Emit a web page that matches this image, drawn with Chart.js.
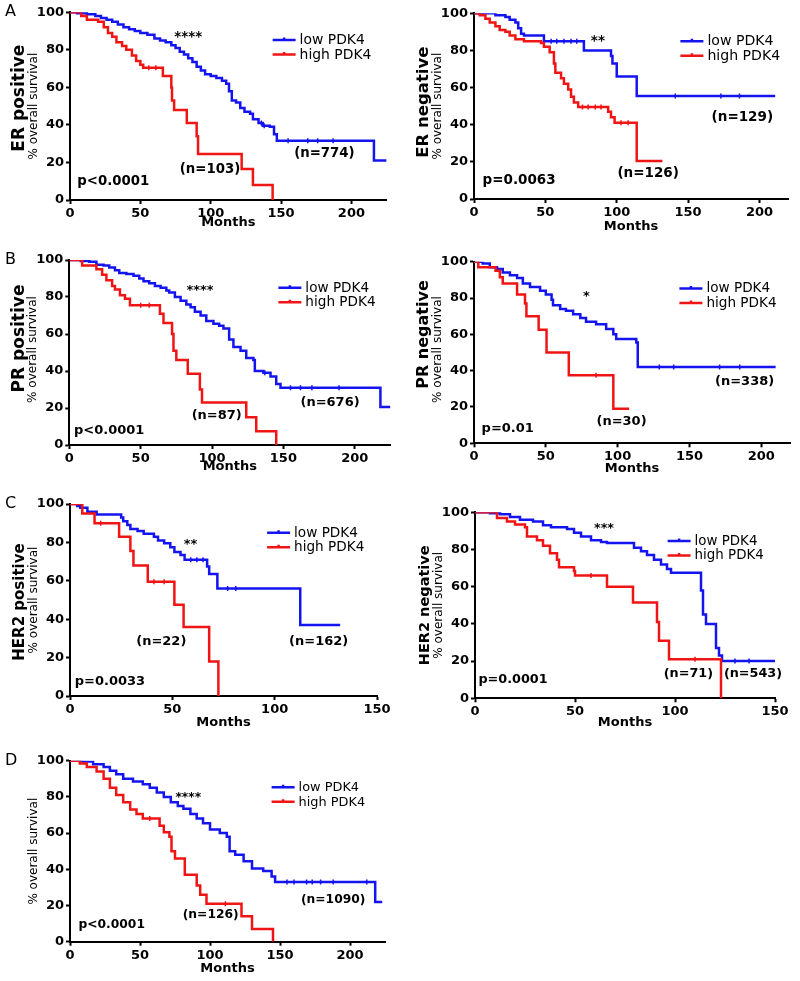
<!DOCTYPE html>
<html>
<head>
<meta charset="utf-8">
<script src="https://cdn.jsdelivr.net/npm/chart.js@4.4.1/dist/chart.umd.min.js"></script>
<style>
  html, body { margin: 0; padding: 0; background: #fff; }
  #fig { position: relative; width: 800px; height: 981px; overflow: hidden; }
  #fig canvas { position: absolute; }
</style>
</head>
<body>
<div id="fig"></div>
<script>
/* ---------- tick labels ---------- */
const yTicks = [0, 20, 40, 60, 80, 100];
const xTicksLong = [0, 50, 100, 150, 200];
const xTicksShort = [0, 50, 100, 150];
const seriesNames = ["low PDK4", "high PDK4"];

/* ---------- survival curves: [months, % surviving] after each step ---------- */
// A - ER positive
const erPosLow = [[0,100],[5,99.5],[12,99],[18,98],[22,97],[26,96],[30,95],[34,93.5],[38,92],[42,91],[46,90],[50,89],[55,88],[60,86],[64,85],[68,84],[72,82.5],[75,81],[78,79],[81,77.5],[84,75.5],[87,73.5],[90,71],[93,69],[96,67],[100,66],[104,65],[108,63.5],[111,62],[113,58],[115,53],[118,52],[121,49],[124,47],[128,46],[130,43],[134,41],[137,39.5],[142,39],[145,35],[147,31.5],[216,21],[225,21]];
const erPosHigh = [[0,100],[8,98],[12,96],[20,95],[24,92],[27,89],[30,87],[33,84],[37,82],[40,80],[44,77],[47,74],[50,72],[52,70.5],[66,66],[72,60],[72.5,53],[74,48],[83,41],[90,34],[91,24.5],[122,16.5],[130,8],[144,0]];
// A - ER negative
const erNegLow = [[0,100],[15,99],[22,98],[25,96.5],[29,95],[31,92],[33,89],[35,88],[49,85],[77,80],[96,77],[97,73],[100,66],[114,55.5],[211,55.5]];
const erNegHigh = [[0,100],[4,99],[8,97],[11,95],[15,93],[18,91],[22,90],[25,88],[29,86],[35,85],[47,84],[49,82],[53,79],[56,73],[57,68],[61,65],[63,62],[66,59],[68,55],[70,52],[73,49.5],[94,47],[96,44],[98.5,41],[114,20.5],[132,20.5]];
// B - PR positive
const prPosLow = [[0,100],[8,99.5],[14,99],[19,97.5],[24,97],[28,96],[32,94.5],[35,93],[40,92.5],[45,91.5],[49,90],[52,88.5],[56,87.5],[60,86],[64,85],[68,83.5],[70,82.5],[74,80],[78,78],[82,76],[85,74.5],[88,72],[92,70],[96,67],[101,65.5],[105,64.5],[108,63],[112,57],[115,53],[120,51],[124,47],[129,46],[130,40],[136,39],[141,37],[145,33],[148,31],[218,20.5],[225,20.5]];
const prPosHigh = [[0,100],[9,97],[19,95],[23,92],[26,89],[30,86],[32,84],[35.5,81],[39,79],[42.5,75.5],[63.5,71],[66,66],[72,60],[73,51],[75,46],[83,38.5],[91.5,30],[93,23],[124,15],[131,7.5],[145,0]];
// B - PR negative
const prNegLow = [[0,100],[6,99],[11,97],[16,96],[20,94],[25,92.5],[30,91],[34,88],[39,86],[46,84],[50,82],[54,79],[55,76],[60,74],[64,73],[69,71],[74,69],[78,67],[85,65.5],[92,63],[97,60],[99,57.5],[113,55.5],[114,42],[210,42]];
const prNegHigh = [[0,100],[3,97],[15,95],[18,91.5],[20,88],[30,82],[35.5,77],[36.5,70],[45,62.5],[50.5,50],[66,37.5],[97,19],[108,19]];
// C - HER2 positive
const her2PosLow = [[0,100],[3.5,99],[5,98],[8.5,96],[13,94.5],[25,93],[26,91],[28,89],[29.5,87],[33,86],[36,84.5],[41,83],[43,81],[46,79.5],[49,77.5],[51,75],[54,73.5],[56,71],[67,67.5],[68,63.5],[72,56],[112.5,37],[132,37]];
const her2PosHigh = [[0,100],[6,95],[12,90],[24,83],[29.5,75.5],[31,68],[38,59.5],[51,47.5],[55.5,36],[68,18],[72.5,0]];
// C - HER2 negative
const her2NegLow = [[0,100],[7.5,99.5],[12.5,99],[17.5,97.5],[22.5,96],[29,95],[34,93],[38,92],[46,91],[49.5,89],[53,87],[58,85],[63,84],[66,83.5],[79.5,81],[83,79],[86,77],[89.5,74.5],[93,72],[96,69.5],[98,67.5],[113,58],[114,45],[115.5,40],[120.5,27],[122,23],[123.5,20],[150,20]];
const her2NegHigh = [[0,100],[11,97],[16,95],[20,93.5],[25,92],[26,87],[31,85],[34,82],[37.5,78],[41,74.5],[42,70.5],[49.5,68.5],[50,66],[66,60],[79,51.5],[91,41],[92,31],[97,21],[123,0]];
// D - all patients
const allLow = [[0,100],[9.5,99.5],[16.5,98],[24,96.5],[28.5,94.5],[33,92.5],[38,90],[45,88.5],[52,87],[57,85],[62,82.5],[67,80],[72,77],[77,75],[81,73.5],[86,70.5],[90.5,68],[95,65.5],[100,62],[107,60],[112,58],[114,50],[118,48],[124,44.5],[130,40.5],[138,39],[144,36],[146.5,33],[218,22],[223,22]];
const allHigh = [[0,100],[7,98.5],[12,96.5],[19,94],[24,90],[28.5,85],[33,81],[38,77],[43,73],[47.5,70.5],[52,68],[64,64],[67,60.5],[71,58],[72.5,50],[75,46],[82,37],[90.5,31],[93,26],[97.5,21],[122.5,14],[130,7],[145,0]];

/* ---------- censored times (months) ---------- */
const erPosLowCens = [136, 138, 155, 169, 176, 187];
const erPosHighCens = [56, 61];
const erNegLowCens = [54, 58, 63, 68, 72, 141, 173, 186];
const erNegHighCens = [76, 80, 85, 89, 103, 108];
const prPosLowCens = [137, 155, 162, 170, 189];
const prPosHighCens = [50, 56];
const prNegLowCens = [129, 139, 171, 185];
const prNegHighCens = [85];
const her2PosLowCens = [59, 62, 65, 77, 81];
const her2PosHighCens = [15, 41, 46];
const her2NegLowCens = [130, 137];
const her2NegHighCens = [58, 110];
const allLowCens = [155, 160, 169, 173, 179, 188, 212];
const allHighCens = [57, 111];

const BLUE = "#1414f0";
const RED = "#f01414";
const FONT = "DejaVu Sans";

/* ---------- panels (layout in page pixels) ---------- */
const panels = [
  { box: [0, 0, 400, 240], area: [70, 386.6, 12.3, 200], xMax: 225, xTicks: xTicksLong, monthsOff: 22.7,
    letter: "A", group: "ER positive", groupSize: 17, groupDy: -8, subDy: 0, fs: 13.3,
    low: erPosLow, high: erPosHigh, lowCens: erPosLowCens, highCens: erPosHighCens,
    stars: ["****", 84, 86.7], nLow: ["(n=774)", 180.8, 24.5],
    nHigh: ["(n=103)", 99.5, 16.3], pval: ["p<0.0001", 5.2, 9.8], legend: [144, 85.3] },
  { box: [400, 0, 400, 240], area: [474, 788, 13.3, 199], xMax: 220, xTicks: xTicksLong, monthsOff: 27.7,
    letter: "", group: "ER negative", groupSize: 16.5, groupDy: -4, subDy: 0, fs: 13.5,
    low: erNegLow, high: erNegHigh, lowCens: erNegLowCens, highCens: erNegHighCens,
    stars: ["**", 86.8, 84.7], nLow: ["(n=129)", 188, 44],
    nHigh: ["(n=126)", 122, 13.5], pval: ["p=0.0063", 6, 10.2], legend: [144.6, 85] },
  { box: [0, 240, 400, 240], area: [69.3, 390.4, 260, 445], xMax: 225, xTicks: xTicksLong, monthsOff: 21.7,
    letter: "B", group: "PR positive", groupSize: 17, groupDy: -14, subDy: -3, fs: 13,
    low: prPosLow, high: prPosHigh, lowCens: prPosLowCens, highCens: prPosHighCens,
    stars: ["****", 91.6, 83.4], nLow: ["(n=676)", 182.7, 22.9],
    nHigh: ["(n=87)", 103.3, 15.9], pval: ["p<0.0001", 3.3, 7.7], legend: [146.5, 85] },
  { box: [400, 240, 400, 240], area: [474, 790, 261.7, 443.3], xMax: 220, xTicks: xTicksLong, monthsOff: 25,
    letter: "", group: "PR negative", groupSize: 16, groupDy: -18, subDy: -3, fs: 13,
    low: prNegLow, high: prNegHigh, lowCens: prNegLowCens, highCens: prNegHighCens,
    stars: ["*", 78.3, 80.7], nLow: ["(n=338)", 188.4, 34],
    nHigh: ["(n=30)", 102.7, 12], pval: ["p=0.01", 5.3, 8.3], legend: [143, 85.3] },
  { box: [0, 480, 400, 255], area: [70, 377, 504, 696], xMax: 150, xTicks: xTicksShort, monthsOff: 26.7,
    letter: "C", group: "HER2 positive", groupSize: 15, groupDy: 2, subDy: 0, fs: 13,
    low: her2PosLow, high: her2PosHigh, lowCens: her2PosLowCens, highCens: her2PosHighCens,
    stars: ["**", 58.9, 79], nLow: ["(n=162)", 121.5, 28.3],
    nHigh: ["(n=22)", 44.6, 28.3], pval: ["p=0.0033", 2.3, 7.5], legend: [96.3, 85] },
  { box: [400, 480, 400, 255], area: [475, 775, 512.3, 698.3], xMax: 150, xTicks: xTicksShort, monthsOff: 24.7,
    letter: "", group: "HER2 negative", groupSize: 14.5, groupDy: 0, subDy: 0, fs: 12.8,
    low: her2NegLow, high: her2NegHigh, lowCens: her2NegLowCens, highCens: her2NegHighCens,
    stars: ["***", 64.5, 91.4], nLow: ["(n=543)", 139, 13],
    nHigh: ["(n=71)", 106.7, 13], pval: ["p=0.0001", 1.7, 9.9], legend: [96.3, 84.6] },
  { box: [0, 735, 400, 246], area: [70, 385, 760.7, 941.7], xMax: 225, xTicks: xTicksLong, monthsOff: 26.6,
    letter: "D", group: "", groupSize: 0, groupDy: 0, subDy: 0, fs: 12.3,
    low: allLow, high: allHigh, lowCens: allLowCens, highCens: allHighCens,
    stars: ["****", 84.5, 79.5], nLow: ["(n=1090)", 188, 23.4],
    nHigh: ["(n=126)", 100.5, 15.1], pval: ["p<0.0001", 6, 9.2], legend: [144, 85.3] },
];

/* ---------- extra text: panel letter, y labels, p value, n, stars, legend ---------- */
const kmText = {
  id: "kmText",
  afterDraw(chart, args, o) {
    const ctx = chart.ctx, a = chart.chartArea;
    const xs = chart.scales.x, ys = chart.scales.y;
    const mid = (a.top + a.bottom) / 2;
    ctx.save();
    ctx.fillStyle = "#000";
    ctx.textBaseline = "middle";

    if (o.letter) {
      ctx.font = `16px "${FONT}"`;
      ctx.textAlign = "left";
      ctx.fillText(o.letter, 5, a.top);
    }
    // rotated y labels
    const vtext = (txt, x, y, font) => {
      ctx.save();
      ctx.translate(x, y);
      ctx.rotate(-Math.PI / 2);
      ctx.font = font;
      ctx.textAlign = "center";
      ctx.fillText(txt, 0, 0);
      ctx.restore();
    };
    vtext("% overall survival", a.left - 36.5, mid + o.subDy, `12px "${FONT}"`);
    if (o.group) vtext(o.group, a.left - 50, mid + o.groupDy, `bold ${o.groupSize}px "${FONT}"`);

    // annotations in data coordinates
    const put = (t, align, size) => {
      ctx.font = `bold ${size}px "${FONT}"`;
      ctx.textAlign = align;
      ctx.fillText(t[0], xs.getPixelForValue(t[1]), ys.getPixelForValue(t[2]));
    };
    put(o.stars, "center", o.fs);
    put(o.nLow, "center", o.fs);
    put(o.nHigh, "center", o.fs);
    put(o.pval, "left", o.fs);

    // legend
    const lx = xs.getPixelForValue(o.legend[0]);
    const ly = ys.getPixelForValue(o.legend[1]);
    const cols = [BLUE, RED];
    ctx.font = `${o.fs + 0.6}px "${FONT}"`;
    ctx.textAlign = "left";
    seriesNames.forEach((name, i) => {
      const y = ly + i * 14.5;
      ctx.strokeStyle = cols[i];
      ctx.lineWidth = 2.5;
      ctx.beginPath();
      ctx.moveTo(lx, y);
      ctx.lineTo(lx + 23, y);
      ctx.moveTo(lx + 11.5, y - 2.5);
      ctx.lineTo(lx + 11.5, y);
      ctx.stroke();
      ctx.fillStyle = "#000";
      ctx.fillText(name, lx + 27, y + 0.5);
    });
    ctx.restore();
  },
};

const fig = document.getElementById("fig");
const pts = (arr) => arr.map(([x, y]) => ({ x, y }));
// survival value of a step curve at time t
const survAt = (curve, t) => {
  let v = curve[0][1];
  for (const [x, y] of curve) { if (x <= t) v = y; else break; }
  return v;
};
const censPts = (curve, times) => times.map((t) => ({ x: t, y: survAt(curve, t) }));

panels.forEach((p) => {
  const [bl, bt, bw, bh] = p.box;
  const [al, ar, at, ab] = p.area;
  const cv = document.createElement("canvas");
  cv.width = bw;
  cv.height = bh;
  cv.style.left = bl + "px";
  cv.style.top = bt + "px";
  cv.style.width = bw + "px";
  cv.style.height = bh + "px";
  fig.appendChild(cv);

  const yW = al - bl;
  const xH = bt + bh - ab;
  const tickFont = { family: FONT, size: 13, weight: "bold" };
  const axisGrid = {
    display: true, drawOnChartArea: false, drawTicks: true,
    tickLength: 4, tickWidth: 2, tickColor: "#000", color: "#000",
  };
  const axisBorder = { display: true, color: "#000", width: 2 };
  const censorStyle = (col) => ({
    type: "scatter", showLine: false, pointStyle: "line", rotation: 90,
    pointRadius: 2.5, pointBorderWidth: 1.5, borderColor: col, backgroundColor: col,
  });

  new Chart(cv, {
    type: "line",
    data: {
      datasets: [
        { label: seriesNames[1], data: pts(p.high), borderColor: RED, borderWidth: 2.5,
          stepped: true, pointRadius: 0, fill: false },
        { label: seriesNames[1] + " censored", data: censPts(p.high, p.highCens), ...censorStyle(RED) },
        { label: seriesNames[0], data: pts(p.low), borderColor: BLUE, borderWidth: 2.5,
          stepped: true, pointRadius: 0, fill: false },
        { label: seriesNames[0] + " censored", data: censPts(p.low, p.lowCens), ...censorStyle(BLUE) },
      ],
    },
    options: {
      responsive: false,
      animation: false,
      layout: { padding: { left: 0, top: at - bt, right: bl + bw - ar, bottom: 0 } },
      plugins: {
        legend: { display: false },
        tooltip: { enabled: false },
        kmText: p,
      },
      scales: {
        x: {
          type: "linear", min: 0, max: p.xMax,
          afterBuildTicks: (s) => { s.ticks = p.xTicks.map((v) => ({ value: v })); },
          afterFit: (s) => { s.height = xH; },
          grid: axisGrid, border: axisBorder,
          ticks: { color: "#000", font: tickFont, padding: 2, maxRotation: 0, autoSkip: false },
          title: {
            display: true, text: "Months", color: "#000",
            font: { family: FONT, size: 13, weight: "bold" },
            padding: { top: 0, bottom: xH - p.monthsOff - 7.8 },
          },
        },
        y: {
          type: "linear", min: 0, max: 100,
          afterBuildTicks: (s) => { s.ticks = yTicks.map((v) => ({ value: v })); },
          afterFit: (s) => { s.width = yW; },
          grid: axisGrid, border: axisBorder,
          ticks: { color: "#000", font: tickFont, padding: 2, autoSkip: false },
        },
      },
    },
    plugins: [kmText],
  });
});
</script>
</body>
</html>
